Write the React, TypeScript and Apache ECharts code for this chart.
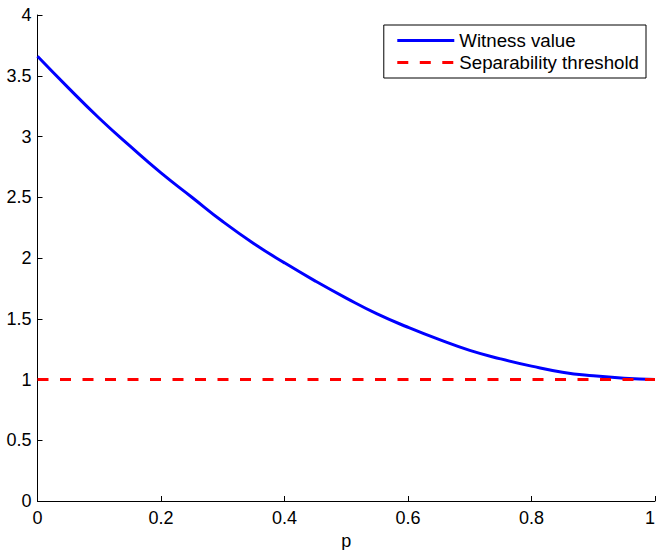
import React, { useEffect, useRef } from "react";
import * as echarts from "echarts";

const pValues = [0, 0.05, 0.1, 0.15, 0.2, 0.25, 0.3, 0.35, 0.4, 0.45, 0.5, 0.55, 0.6, 0.65, 0.7, 0.75, 0.8, 0.85, 0.9, 0.95, 1.0];
const witnessValues = [3.66, 3.4, 3.15, 2.92, 2.7, 2.5, 2.3, 2.12, 1.96, 1.81, 1.67, 1.54, 1.43, 1.33, 1.24, 1.17, 1.11, 1.06, 1.03, 1.01, 1.0];
const thresholdP = [0, 1];
const thresholdValues = [1, 1];
const seriesNames = ["Witness value", "Separability threshold"];

const FONT = "'Liberation Sans', Arial, Helvetica, sans-serif";

export default function App() {
  const ref = useRef<HTMLDivElement>(null);
  useEffect(() => {
    if (!ref.current) return;
    const chart = echarts.init(ref.current, undefined, { renderer: "svg" });
    chart.setOption({
      animation: false,
      backgroundColor: "#fff",
      textStyle: { fontFamily: FONT },
      grid: { left: 37.5, right: 2, top: 15, bottom: 49, containLabel: false, outerBoundsMode: "none" },
      legend: {
        orient: "vertical",
        right: 11,
        top: 25,
        padding: [6, 7, 6, 12],
        itemWidth: 57,
        itemHeight: 19,
        itemGap: 3,
        borderColor: "#000",
        borderWidth: 1,
        backgroundColor: "#fff",
        itemStyle: { color: "rgba(0,0,0,0)", borderWidth: 0, opacity: 0 },
        lineStyle: { width: 3 },
        textStyle: { fontSize: 18.7, color: "#000", fontFamily: FONT, lineHeight: 19 },
        data: seriesNames,
      },
      xAxis: {
        type: "value",
        min: 0,
        max: 1,
        interval: 0.2,
        name: "p",
        nameLocation: "middle",
        nameGap: 27,
        nameTextStyle: { fontSize: 18, color: "#000", fontFamily: FONT },
        axisLine: { show: true, onZero: false, lineStyle: { color: "#000", width: 1 } },
        axisTick: { show: true, inside: true, length: 5, lineStyle: { color: "#000" } },
        axisLabel: { fontSize: 18, color: "#000", margin: 8, fontFamily: FONT, alignMaxLabel: "right" },
        splitLine: { show: false },
      },
      yAxis: {
        type: "value",
        min: 0,
        max: 4,
        interval: 0.5,
        axisLine: { show: true, onZero: false, lineStyle: { color: "#000", width: 1 } },
        axisTick: { show: true, inside: true, length: 5, lineStyle: { color: "#000" } },
        axisLabel: { fontSize: 18, color: "#000", margin: 6, fontFamily: FONT },
        splitLine: { show: false },
      },
      series: [
        {
          name: seriesNames[0],
          type: "line",
          smooth: true,
          symbol: "none",
          data: pValues.map((p, i) => [p, witnessValues[i]]),
          lineStyle: { color: "#0000ff", width: 3 },
          itemStyle: { color: "#0000ff" },
          z: 2,
        },
        {
          name: seriesNames[1],
          type: "line",
          symbol: "none",
          data: thresholdP.map((p, i) => [p, thresholdValues[i]]),
          lineStyle: { color: "#ff0000", width: 3, type: [11, 11.5] },
          itemStyle: { color: "#ff0000" },
          z: 3,
        },
      ],
    });
    return () => chart.dispose();
  }, []);
  return <div ref={ref} style={{ position: "fixed", left: 0, top: 0, width: 657, height: 550 }} />;
}
